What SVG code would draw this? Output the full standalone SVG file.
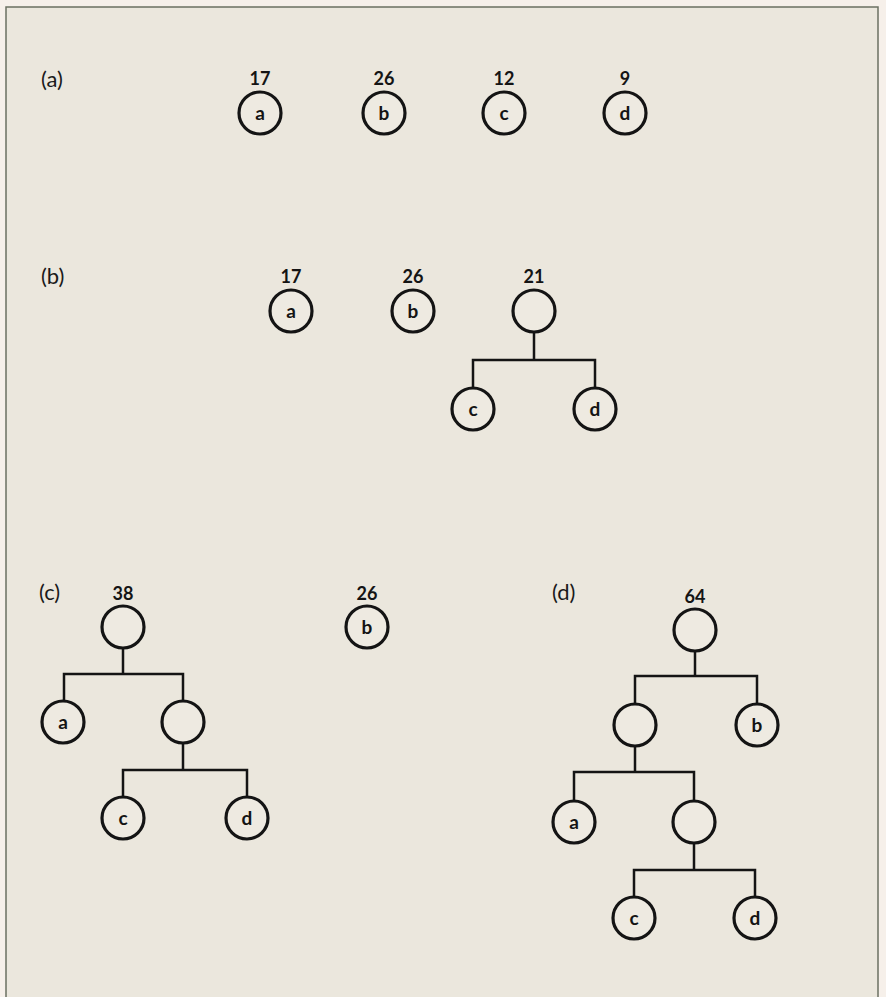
<svg xmlns="http://www.w3.org/2000/svg" width="886" height="997" viewBox="0 0 886 997">
<style>
.node circle{fill:#eeeae1;stroke:#141414;stroke-width:3.2}
.lbl{font-family:Lato,"Liberation Sans",sans-serif;font-size:19px;font-weight:bold;fill:#141414;text-anchor:middle}
.num{font-family:Lato,"Liberation Sans",sans-serif;font-size:18px;font-weight:bold;fill:#141414;text-anchor:middle}
.part{font-family:Lato,"Liberation Sans",sans-serif;font-size:22px;fill:#1a1a1a}
#connectors path{fill:none;stroke:#141414;stroke-width:2.5}
</style>
<rect x="0" y="0" width="886" height="997" fill="#f6f0ea"/>
<rect x="6" y="7" width="872" height="995" fill="#ebe7dd" stroke="#6b7062" stroke-width="1.5"/>

<g id="labels">
<text class="part" x="41" y="87">(a)</text>
<text class="part" x="41" y="284">(b)</text>
<text class="part" x="39" y="600">(c)</text>
<text class="part" x="552" y="600">(d)</text>
</g>

<g id="connectors">
<path d="M534 333V360M473 387V360H595V387"/>
<path d="M123 649V674M64 701V674H183V700"/>
<path d="M183 744V770M123 796V770H247V796"/>
<path d="M695 652V676M635 703V676H757V703"/>
<path d="M635 747V772M574 800V772H694V800"/>
<path d="M694 844V870M634 896V870H755V896"/>
</g>

<g id="a-a" class="node"><circle cx="260" cy="113" r="21"/><text class="lbl" x="260" y="120">a</text><text class="num" x="260" y="85">17</text></g>
<g id="a-b" class="node"><circle cx="384" cy="113" r="21"/><text class="lbl" x="384" y="120">b</text><text class="num" x="384" y="85">26</text></g>
<g id="a-c" class="node"><circle cx="504" cy="113" r="21"/><text class="lbl" x="504" y="120">c</text><text class="num" x="504" y="85">12</text></g>
<g id="a-d" class="node"><circle cx="625" cy="113" r="21"/><text class="lbl" x="625" y="120">d</text><text class="num" x="625" y="85">9</text></g>

<g id="b-a" class="node"><circle cx="291" cy="311" r="21"/><text class="lbl" x="291" y="318">a</text><text class="num" x="291" y="283">17</text></g>
<g id="b-b" class="node"><circle cx="413" cy="311" r="21"/><text class="lbl" x="413" y="318">b</text><text class="num" x="413" y="283">26</text></g>
<g id="b-cd" class="node"><circle cx="534" cy="311" r="21"/><text class="num" x="534" y="283">21</text></g>
<g id="b-c" class="node"><circle cx="473" cy="409" r="21"/><text class="lbl" x="473" y="416">c</text></g>
<g id="b-d" class="node"><circle cx="595" cy="409" r="21"/><text class="lbl" x="595" y="416">d</text></g>

<g id="c-root" class="node"><circle cx="123" cy="627" r="21"/><text class="num" x="123" y="600">38</text></g>
<g id="c-b" class="node"><circle cx="367" cy="627" r="21"/><text class="lbl" x="367" y="634">b</text><text class="num" x="367" y="600">26</text></g>
<g id="c-a" class="node"><circle cx="63" cy="722" r="21"/><text class="lbl" x="63" y="729">a</text></g>
<g id="c-cd" class="node"><circle cx="183" cy="722" r="21"/></g>
<g id="c-c" class="node"><circle cx="123" cy="818" r="21"/><text class="lbl" x="123" y="825">c</text></g>
<g id="c-d" class="node"><circle cx="247" cy="818" r="21"/><text class="lbl" x="247" y="825">d</text></g>

<g id="d-root" class="node"><circle cx="695" cy="630" r="21"/><text class="num" x="695" y="603">64</text></g>
<g id="d-acd" class="node"><circle cx="635" cy="725" r="21"/></g>
<g id="d-b" class="node"><circle cx="757" cy="725" r="21"/><text class="lbl" x="757" y="732">b</text></g>
<g id="d-a" class="node"><circle cx="574" cy="822" r="21"/><text class="lbl" x="574" y="829">a</text></g>
<g id="d-cd" class="node"><circle cx="694" cy="822" r="21"/></g>
<g id="d-c" class="node"><circle cx="634" cy="918" r="21"/><text class="lbl" x="634" y="925">c</text></g>
<g id="d-d" class="node"><circle cx="755" cy="918" r="21"/><text class="lbl" x="755" y="925">d</text></g>
</svg>
